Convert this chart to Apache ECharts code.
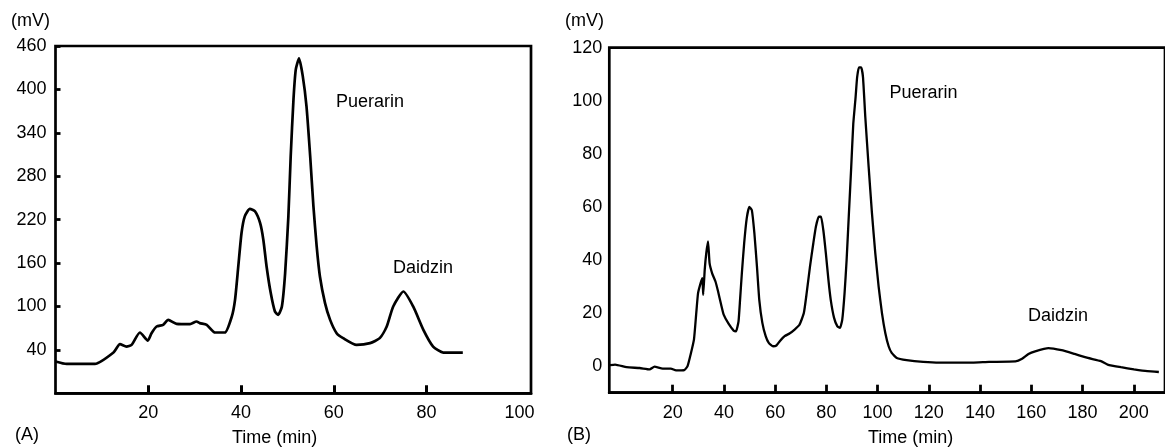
<!DOCTYPE html>
<html>
<head>
<meta charset="utf-8">
<script src="https://cdn.jsdelivr.net/npm/echarts@6/dist/echarts.min.js"></script>
<style>html,body{margin:0;padding:0;background:#fff}#c{width:1165px;height:448px}</style>
</head>
<body>
<div id="c"></div>
<script>
// Panel A: time (min), signal (mV)
const timeA = [0,2.4,8.5,12.5,13.9,15.3,16.4,18.2,19.9,20.7,21.8,23.2,24.3,26.1,29,30.4,31.1,32.6,34.4,36.5,38,38.7,39.4,40.1,40.8,41.9,43,44.1,44.8,45.5,46.4,47.3,48,48.8,49.5,50.2,50.7,51.3,51.8,52.5,53.3,54.1,54.9,55.6,56.3,57,58.1,59.2,60.6,62,64.9,67.8,69.9,71.4,72.8,75,77.1,79.3,81.4,83.6,87.8];
const signalA = [24,20.6,20.6,36.3,47.9,44.6,46.9,64,52.9,63.1,72.3,74.6,81.5,76,75.6,79.2,77,74.6,64,64,86.1,109.2,155.3,201.6,224.6,234.8,231.5,215.4,192.3,155.3,118.5,93,88.5,100,146.2,224.6,307.6,386.2,427.7,442.9,418.4,376.9,307.6,238.4,183,141.5,104.7,81.5,63.1,56.2,46.9,49.3,56.2,72.3,100,120.7,100,67.7,44.6,36.3,36.3];
// Panel B
const timeB = [-4.5,-2.5,2,7.1,11,12.9,16.1,19.3,21.3,24.5,25.8,27,28.3,29.2,29.9,30.9,31.6,31.9,32.5,33.1,33.8,34.4,35.4,36.7,37.7,38.9,39.9,41.8,43.8,44.7,45.7,46.3,47,47.9,48.9,49.9,50.9,51.9,52.9,53.8,55,56.3,57.5,59.2,60.5,61.8,63.7,65.6,67.6,69.5,71.2,72.3,73.6,74.9,75.9,77,77.9,78.8,79.8,80.8,81.7,83,84.3,85.3,86.2,87.1,87.9,88.8,89.7,90.5,91.4,92,92.7,93.6,94.3,95.2,96.5,97.8,99.1,100.4,101.7,103,104.3,105.5,107.5,111.3,117.8,124.2,130.6,137,143.5,153.8,156.4,158.9,161.5,166.7,171.8,176.9,182.1,187.2,189.8,195,200.1,205.3,209.8];
const signalB = [0.4,0.6,-0.4,-0.7,-1.2,-0.2,-0.9,-0.9,-1.6,-1.5,0,4.4,10,20,27.5,31.3,33.2,26.9,36.3,42.5,47,38.8,35,31.9,28.2,23.2,19.4,16,13.4,13.1,16.9,25,35,46.3,55.7,60,58.8,50,37.5,25,16.3,11.3,8.8,7.5,7.8,9.4,11.3,12.3,13.8,15.6,20,27.5,37.5,46.3,52.5,56.3,56.3,51.3,42.5,32.5,25,18.2,15,14.4,17.5,27.5,40,57.6,75.1,91.3,101.3,108.8,112.6,112.6,108.8,93.8,75.1,57.6,42.5,30,20,12.5,7.5,5,3.1,2.3,1.6,1.3,1.3,1.3,1.6,1.8,2.8,4.6,5.6,6.8,6,4.6,3.1,1.9,0.6,-0.4,-1.2,-1.9,-2.2];
// tick labels
const xTicksA = [20,40,60,80];
const xLabelsA = [20,40,60,80,100];
const xTicksB = [20,40,60,80,100,120,140,160,180,200];
const yLabelsB = [0,20,40,60,80,100,120];
// peak annotations [time, signal, name]
const annotA = [[67.8,382,'Puerarin'],[79.2,153,'Daidzin']];
const annotB = [[117.9,102.8,'Puerarin'],[170.4,18.8,'Daidzin']];

const F = 'Liberation Sans, Arial, Helvetica, sans-serif';
const FS = 18;
const pairs = (xs, ys) => xs.map((x, i) => [x, ys[i]]);
const annot = a => ({
  symbol: 'circle', symbolSize: 0, silent: true,
  label: {show: true, position: 'inside', formatter: '{b}', color: '#000', fontSize: FS, fontFamily: F},
  data: a.map(p => ({name: p[2], coord: [p[0], p[1]]}))
});
const chart = echarts.init(document.getElementById('c'), null, {renderer: 'canvas'});
chart.setOption({
  animation: false,
  backgroundColor: '#fff',
  textStyle: {fontFamily: F},
  grid: [
    {left: 55.5, top: 46, width: 475.5, height: 347.3, show: true, borderColor: '#000', borderWidth: 2.7, containLabel: false},
    {left: 609.3, top: 47.7, width: 562, height: 345, show: true, borderColor: '#000', borderWidth: 2.7, containLabel: false}
  ],
  xAxis: [
    {type: 'value', gridIndex: 0, min: 0, max: 102.5, interval: 20, position: 'bottom',
     axisLine: {show: true, onZero: false, lineStyle: {color: '#000', width: 2.7}}, splitLine: {show: false},
     axisTick: {show: true, inside: true, length: 8, lineStyle: {color: '#000', width: 3}, customValues: xTicksA},
     axisLabel: {color: '#000', fontSize: FS, fontFamily: F, margin: 11, customValues: xLabelsA}},
    {type: 'value', gridIndex: 1, min: -4.75, max: 212.2, interval: 20, position: 'bottom',
     axisLine: {show: true, onZero: false, lineStyle: {color: '#000', width: 2.7}}, splitLine: {show: false},
     axisTick: {show: true, inside: true, length: 8, lineStyle: {color: '#000', width: 2.8}, customValues: xTicksB},
     axisLabel: {color: '#000', fontSize: FS, fontFamily: F, margin: 11, customValues: xTicksB}}
  ],
  yAxis: [
    {type: 'value', gridIndex: 0, min: -20, max: 460, interval: 60,
     axisLine: {show: false, onZero: false}, splitLine: {show: false},
     axisTick: {show: true, inside: true, length: 5, lineStyle: {color: '#000', width: 2.8}},
     axisLabel: {color: '#000', fontSize: FS, fontFamily: F, margin: 9, showMinLabel: false}},
    {type: 'value', gridIndex: 1, min: -10, max: 120, interval: 10,
     axisLine: {show: false, onZero: false}, splitLine: {show: false},
     axisTick: {show: false},
     axisLabel: {color: '#000', fontSize: FS, fontFamily: F, margin: 7, customValues: yLabelsB}}
  ],
  series: [
    {type: 'line', xAxisIndex: 0, yAxisIndex: 0, data: pairs(timeA, signalA), showSymbol: false, smooth: 0.2,
     lineStyle: {color: '#000', width: 2.7}, markPoint: annot(annotA)},
    {type: 'line', xAxisIndex: 1, yAxisIndex: 1, data: pairs(timeB, signalB), showSymbol: false, smooth: 0.15,
     lineStyle: {color: '#000', width: 2.3}, markPoint: annot(annotB)}
  ],
  graphic: [
    {type: 'text', left: 11, top: 12, style: {text: '(mV)', fontSize: FS, fontFamily: F, fill: '#000'}},
    {type: 'text', left: 565, top: 12, style: {text: '(mV)', fontSize: FS, fontFamily: F, fill: '#000'}},
    {type: 'text', left: 15, top: 426, style: {text: '(A)', fontSize: FS, fontFamily: F, fill: '#000'}},
    {type: 'text', left: 567, top: 426, style: {text: '(B)', fontSize: FS, fontFamily: F, fill: '#000'}},
    {type: 'text', left: 232, top: 429, style: {text: 'Time (min)', fontSize: FS, fontFamily: F, fill: '#000'}},
    {type: 'text', left: 868, top: 429, style: {text: 'Time (min)', fontSize: FS, fontFamily: F, fill: '#000'}}
  ]
});
</script>
</body>
</html>
